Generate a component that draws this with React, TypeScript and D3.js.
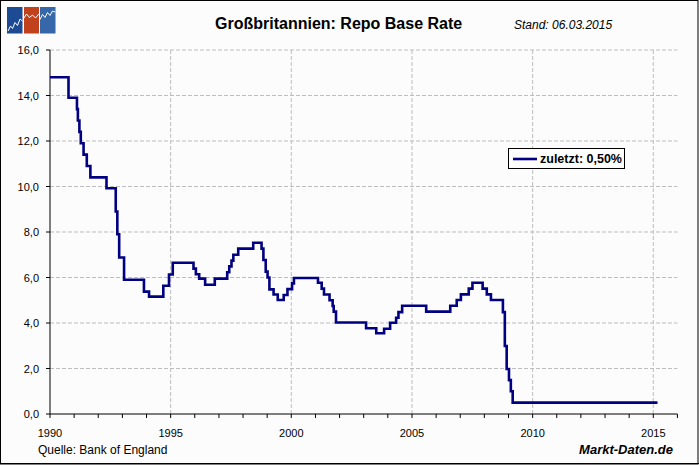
import React from "react";
import * as d3 from "d3";

const rateDates: string[] = [
  "1990-01-01", "1990-10-08", "1991-02-13", "1991-02-27", "1991-03-22", "1991-04-12",
  "1991-05-24", "1991-07-12", "1991-09-04", "1992-05-05", "1992-09-22", "1992-10-16",
  "1992-11-13", "1993-01-26", "1993-11-23", "1994-02-08", "1994-09-12", "1994-12-07",
  "1995-02-02", "1995-12-13", "1996-01-18", "1996-03-08", "1996-06-06", "1996-10-30",
  "1997-05-06", "1997-06-06", "1997-07-10", "1997-08-07", "1997-10-20", "1998-06-04",
  "1998-10-08", "1998-11-05", "1998-12-10", "1999-01-07", "1999-02-04", "1999-04-08",
  "1999-06-10", "1999-09-08", "1999-11-04", "2000-01-13", "2000-02-10", "2001-02-08",
  "2001-04-05", "2001-05-10", "2001-08-02", "2001-09-18", "2001-10-04", "2001-11-08",
  "2003-02-06", "2003-07-10", "2003-11-06", "2004-02-05", "2004-05-06", "2004-06-10",
  "2004-08-05", "2005-08-04", "2006-08-03", "2006-11-09", "2007-01-11", "2007-05-10",
  "2007-07-05", "2007-12-06", "2008-02-07", "2008-04-10", "2008-10-08", "2008-11-06",
  "2008-12-04", "2009-01-08", "2009-02-05", "2009-03-05", "2015-03-06",
];
const rateValues: number[] = [
  14.8, 13.9, 13.4, 12.9, 12.4, 11.9,
  11.4, 10.9, 10.4, 9.92, 8.9, 7.9,
  6.88, 5.9, 5.38, 5.16, 5.64, 6.13,
  6.65, 6.39, 6.14, 5.95, 5.68, 5.95,
  6.23, 6.49, 6.74, 7.0, 7.27, 7.53,
  7.27, 6.77, 6.26, 6.0, 5.48, 5.25,
  5.01, 5.23, 5.49, 5.74, 5.98, 5.77,
  5.51, 5.25, 5.0, 4.75, 4.5, 4.02,
  3.77, 3.55, 3.75, 4.01, 4.23, 4.48,
  4.76, 4.5, 4.76, 5.01, 5.26, 5.51,
  5.77, 5.51, 5.26, 5.01, 4.48, 2.99,
  1.98, 1.49, 1.0, 0.5, 0.5,
];
const yTicks: number[] = [0, 2, 4, 6, 8, 10, 12, 14, 16];
const xLabelYears: number[] = [1990, 1995, 2000, 2005, 2010, 2015];
const xMinorYears: number[] = d3.range(1990, 2017);

const titleText = "Großbritannien: Repo Base Rate";
const standText = "Stand: 06.03.2015";
const legendText = "zuletzt: 0,50%";
const sourceText = "Quelle: Bank of England";
const brandText = "Markt-Daten.de";

const W = 699;
const H = 465;
const left = 50;
const right = 677.4;
const top = 50;
const bottom = 414;

const parse = d3.timeParse("%Y-%m-%d");
const yearDate = (y: number) => new Date(y, 0, 1);

export default function App() {
  const x = d3.scaleTime().domain([yearDate(1990), yearDate(2016)]).range([left, right]);
  const y = d3.scaleLinear().domain([0, 16]).range([bottom, top]);
  const data = rateDates.map((d, i) => ({ date: parse(d) as Date, value: rateValues[i] }));
  const line = d3
    .line<{ date: Date; value: number }>()
    .x((d) => x(d.date))
    .y((d) => y(d.value))
    .curve(d3.curveStepAfter);
  const fmt = (v: number) => d3.format(".1f")(v).replace(".", ",");
  const font = "Arial, 'Liberation Sans', sans-serif";
  const navy = "#000080";
  const grid = "#bdbdbd";

  const logoPath = d3.line()([
    [8, 31], [10.5, 26], [12.5, 28.5], [15, 22.5], [17.5, 25.5], [20, 19], [22.3, 21],
  ] as [number, number][]);
  const logoPath2 = d3.line()([
    [24, 18], [26.5, 14], [29.5, 17.5], [32.5, 15], [35.5, 18], [38.7, 14],
  ] as [number, number][]);
  const logoPath3 = d3.line()([
    [40, 19.5], [42.5, 14.5], [45, 17.5], [47.5, 12.5], [50, 15.5], [52.5, 11], [55, 12],
  ] as [number, number][]);

  return (
    <svg
      width={W}
      height={H}
      style={{ position: "absolute", left: 0, top: 0, display: "block" }}
      fontFamily={font}
    >
      <rect x={0} y={0} width={W} height={H} fill="#fcfcfc" />
      <rect x={0.5} y={0.5} width={W - 1.5} height={H - 1.5} fill="none" stroke="#000" strokeWidth={1} />
      <line x1={0} x2={W} y1={H - 1.5} y2={H - 1.5} stroke="#000" strokeWidth={1} />

      {/* logo */}
      <rect x={7} y={7} width={15.5} height={26.5} fill="#1d4b93" />
      <rect x={24} y={7} width={15} height={26.5} fill="#c2411d" />
      <rect x={40} y={7} width={15.5} height={26.5} fill="#3567a9" />
      <path d={logoPath || ""} fill="none" stroke="#fff" strokeWidth={1} />
      <path d={logoPath2 || ""} fill="none" stroke="#fff" strokeWidth={1} />
      <path d={logoPath3 || ""} fill="none" stroke="#fff" strokeWidth={1} />

      <text x={215} y={29} fontSize={16} fontWeight="bold" fill="#000">
        {titleText}
      </text>
      <text x={514} y={29} fontSize={12} fontStyle="italic" fill="#000">
        {standText}
      </text>

      {/* grid */}
      {yTicks.filter((t) => t > 0).map((t) => (
        <line key={"gy" + t} x1={left} x2={right} y1={y(t)} y2={y(t)} stroke={grid} strokeDasharray="4,2" />
      ))}
      {xLabelYears.filter((yr) => yr > 1990).map((yr) => (
        <line key={"gx" + yr} x1={x(yearDate(yr))} x2={x(yearDate(yr))} y1={top} y2={bottom} stroke={grid} strokeDasharray="4,2" />
      ))}

      {/* axes */}
      <line x1={left} x2={left} y1={top} y2={bottom} stroke="#000" />
      <line x1={left} x2={right} y1={bottom} y2={bottom} stroke="#000" />
      {yTicks.map((t) => (
        <g key={"yt" + t}>
          <line x1={left - 4} x2={left} y1={y(t)} y2={y(t)} stroke="#000" />
          <text x={39} y={y(t) + 4} fontSize={11} textAnchor="end" fill="#000">
            {fmt(t)}
          </text>
        </g>
      ))}
      {xMinorYears.map((yr) => (
        <line key={"xt" + yr} x1={x(yearDate(yr))} x2={x(yearDate(yr))} y1={bottom} y2={bottom + 4} stroke="#000" />
      ))}
      {xLabelYears.map((yr) => (
        <text key={"xl" + yr} x={x(yearDate(yr))} y={437} fontSize={11} textAnchor="middle" fill="#000">
          {yr}
        </text>
      ))}

      {/* series */}
      <path d={line(data) || ""} fill="none" stroke={navy} strokeWidth={2.6} />

      {/* legend */}
      <rect x={508.5} y={148.5} width={116} height={20} fill="#fff" stroke="#000" />
      <line x1={513} x2={537} y1={159} y2={159} stroke={navy} strokeWidth={2.6} />
      <text x={540} y={163} fontSize={12.5} fontWeight="bold" fill="#000">
        {legendText}
      </text>

      <text x={38} y={454} fontSize={12} fill="#000">
        {sourceText}
      </text>
      <text x={673} y={453.5} fontSize={13} fontWeight="bold" fontStyle="italic" textAnchor="end" fill="#000">
        {brandText}
      </text>
    </svg>
  );
}
